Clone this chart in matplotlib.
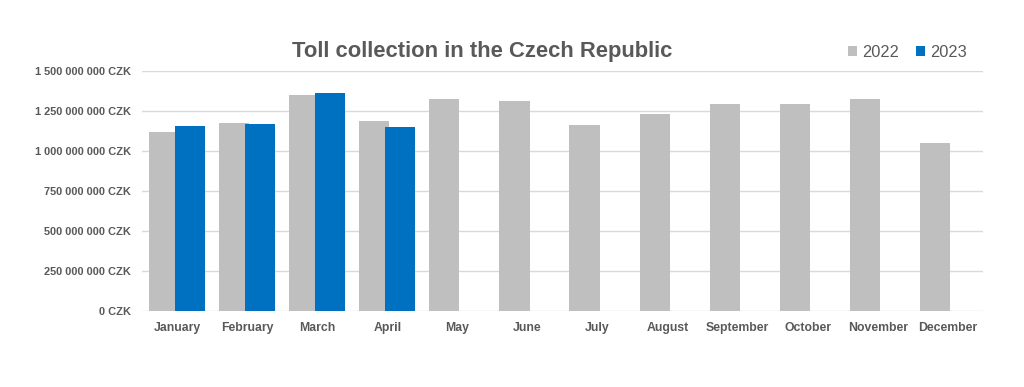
import numpy as np
import matplotlib.pyplot as plt
from matplotlib.ticker import FuncFormatter

plt.rcParams["font.family"] = ["Liberation Sans", "DejaVu Sans"]

months = ["January", "February", "March", "April", "May", "June", "July",
          "August", "September", "October", "November", "December"]
toll_2022 = [1.121e9, 1.177e9, 1.352e9, 1.186e9, 1.327e9, 1.313e9, 1.163e9,
             1.231e9, 1.293e9, 1.293e9, 1.323e9, 1.050e9]
toll_2023 = [1.158e9, 1.171e9, 1.361e9, 1.152e9]

GRAY = "#BFBFBF"
BLUE = "#0070C0"
TEXT = "#595959"


def czk(v, _):
    return f"{int(v):,} CZK".replace(",", " ")


fig = plt.figure(figsize=(10.24, 3.87), dpi=100)
ax = fig.add_axes([0.1387, 0.196, 0.8213, 0.6205])

x = np.arange(len(months))
w = 0.43
off = 0.186
ax.bar(x - off, toll_2022, width=w, color=GRAY, label="2022", zorder=2)
ax.bar(x[:len(toll_2023)] + off, toll_2023, width=w, color=BLUE, label="2023", zorder=3)

ax.set_xlim(-0.5, len(months) - 0.5)
ax.set_ylim(0, 1.5e9)
ax.set_yticks(np.arange(0, 1.5e9 + 1, 2.5e8))
ax.yaxis.set_major_formatter(FuncFormatter(czk))
ax.grid(axis="y", color="#D9D9D9", linewidth=1, zorder=0)
for s in ax.spines.values():
    s.set_visible(False)
ax.tick_params(axis="y", length=0, pad=8, labelsize=7.9, labelcolor=TEXT)
ax.tick_params(axis="x", length=0, pad=7.5, labelsize=8.8, labelcolor=TEXT)
ax.set_xticks(x)
ax.set_xticklabels(months)
for lab in ax.get_xticklabels() + ax.get_yticklabels():
    lab.set_fontweight("bold")

fig.text(0.471, 0.866, "Toll collection in the Czech Republic", ha="center", va="center",
         fontsize=15.8, fontweight="bold", color=TEXT)

fig.legend(loc="center", bbox_to_anchor=(0.886, 0.865), ncol=2, frameon=False,
           fontsize=11.8, handlelength=0.6, handleheight=0.6, handletextpad=0.3,
           columnspacing=1.0, labelcolor=TEXT)

fig.savefig("out.png", dpi=100)
